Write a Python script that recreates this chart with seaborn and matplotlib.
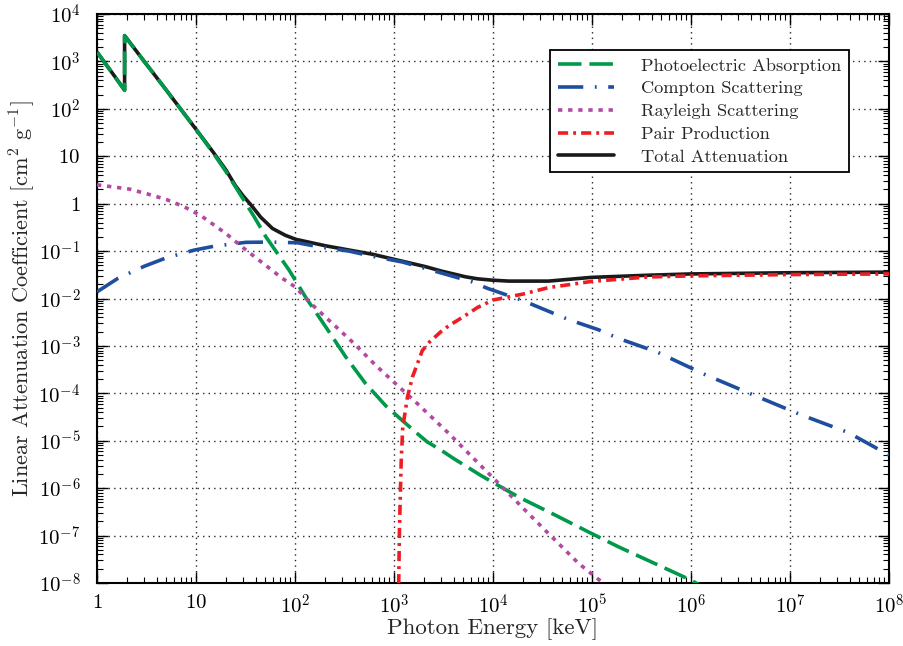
import numpy as np
import matplotlib
matplotlib.use("Agg")
import matplotlib.pyplot as plt
import seaborn as sns
from matplotlib.ticker import LogLocator, NullFormatter

# photon energy [keV] and coefficient [cm^2 g^-1]
photo_energy = [1.0, 1.9, 1.9, 3.0, 5.0, 10.0, 15.0, 20.0, 38.7, 50.8, 87.2, 128.5,
                205, 325, 515, 823, 1259, 1700, 2160, 3000, 4020, 5500, 7460, 9770,
                18150, 42600, 99600, 185000, 1.0e6, 2.0e6]
photo_coef = [1580, 245, 3500, 1000, 250, 37, 11.5, 4.8, 0.53, 0.2, 0.0397, 0.0105,
              2.5e-3, 5.9e-4, 1.62e-4, 5.5e-5, 2.5e-5, 1.45e-5, 9.5e-6, 6.3e-6, 4.2e-6,
              2.8e-6, 1.88e-6, 1.36e-6, 6.5e-7, 2.7e-7, 1.1e-7, 5.8e-8, 1.15e-8, 5e-9]

compton_energy = [1.0, 1.62, 3.01, 5.0, 9.6, 15.3, 31.9, 54.8, 106, 175, 351, 603,
                  1210, 2080, 3870, 6150, 8710, 19600, 57900, 116000, 185000, 450000,
                  1.38e6, 4.09e6, 1.26e7, 3.85e7, 1.0e8]
compton_coef = [0.0138, 0.0265, 0.048, 0.072, 0.105, 0.127, 0.153, 0.155, 0.15, 0.123,
                0.1, 0.078, 0.059, 0.043, 0.0297, 0.0225, 0.0165, 9.2e-3, 3.6e-3, 2.2e-3,
                1.44e-3, 7.5e-4, 2.5e-4, 9.6e-5, 3.6e-5, 1.5e-5, 5.0e-6]

rayleigh_energy = [1.0, 2.13, 3.25, 5.0, 7.6, 11.2, 20, 30, 50, 74.7, 100, 150, 238,
                   394, 653, 1038, 1651, 3575, 7180, 11400, 21200, 39300, 73100,
                   125600, 200000]
rayleigh_coef = [2.5, 2.03, 1.6, 1.23, 0.86, 0.56, 0.236, 0.117, 0.051, 0.0265, 0.0177,
                 7.3e-3, 3e-3, 1.13e-3, 3.9e-4, 1.6e-4, 6.6e-5, 1.43e-5, 3.3e-6, 1.26e-6,
                 3.4e-7, 9.4e-8, 2.6e-8, 1.05e-8, 4e-9]

pair_energy = [1100, 1135, 1181, 1225, 1367, 1535, 1933, 2275, 2980, 3610, 5000, 7000,
               10000, 20000, 36500, 100000, 370000, 1.0e6, 1.0e7, 1.0e8]
pair_coef = [1e-9, 1.3e-7, 3.4e-6, 1.9e-5, 8.3e-5, 2.2e-4, 8e-4, 1.2e-3, 2.0e-3, 2.7e-3,
             4.1e-3, 6.5e-3, 9.3e-3, 0.0124, 0.017, 0.023, 0.0285, 0.030, 0.032, 0.033]

total_energy = [1.0, 1.9, 1.9, 3.0, 5.0, 10.0, 15.0, 20.0, 25.0, 30.0, 35.8, 45.0, 59.2,
                80.0, 102, 205, 603, 2080, 3000, 5270, 7000, 9770, 14400, 36400, 98200,
                370000, 1.0e6, 1.0e7, 1.0e8]
total_coef = [1580, 250, 3500, 1000, 250, 37, 12, 5.2, 2.4, 1.45, 0.95, 0.52, 0.30,
              0.215, 0.177, 0.129, 0.086, 0.047, 0.038, 0.0287, 0.026, 0.0244, 0.0233,
              0.0233, 0.0279, 0.031, 0.033, 0.035, 0.036]

xtick_vals = [1, 10, 1e2, 1e3, 1e4, 1e5, 1e6, 1e7, 1e8]
xtick_labels = ['$1$', '$10$', '$10^2$', '$10^3$', '$10^4$', '$10^5$', '$10^6$',
                '$10^7$', '$10^8$']
ytick_vals = [1e-8, 1e-7, 1e-6, 1e-5, 1e-4, 1e-3, 1e-2, 1e-1, 1, 10, 1e2, 1e3, 1e4]
ytick_labels = ['$10^{-8}$', '$10^{-7}$', '$10^{-6}$', '$10^{-5}$', '$10^{-4}$',
                '$10^{-3}$', '$10^{-2}$', '$10^{-1}$', '$1$', '$10$', '$10^2$',
                '$10^3$', '$10^4$']

sns.set_style("ticks")
plt.rcParams['font.family'] = 'serif'
plt.rcParams['font.serif'] = ['cmr10', 'DejaVu Serif']
plt.rcParams['mathtext.fontset'] = 'cm'
plt.rcParams['axes.unicode_minus'] = False

fig = plt.figure(figsize=(9.04, 6.46), dpi=100)
ax = fig.add_axes([0.1073, 0.0975, 0.8761, 0.8808])
ax.set_xscale('log')
ax.set_yscale('log')

lw = 2.6
sns.lineplot(x=total_energy, y=total_coef, ax=ax, color='#1a1a1a', lw=lw,
             label='Total Attenuation', estimator=None, sort=False, zorder=2)
sns.lineplot(x=photo_energy, y=photo_coef, ax=ax, color='#00994a', lw=lw,
             linestyle=(0, (6.5, 2.2)), label='Photoelectric Absorption',
             estimator=None, sort=False, zorder=3)
sns.lineplot(x=compton_energy, y=compton_coef, ax=ax, color='#1f4e9e', lw=lw,
             linestyle=(0, (7, 3.2, 0.5, 3.2)), label='Compton Scattering',
             estimator=None, sort=False, zorder=3)
sns.lineplot(x=rayleigh_energy, y=rayleigh_coef, ax=ax, color='#b348a5', lw=lw,
             linestyle=(0, (1.2, 1.6)), label='Rayleigh Scattering',
             estimator=None, sort=False, zorder=3)
sns.lineplot(x=pair_energy, y=pair_coef, ax=ax, color='#ee1d23', lw=lw,
             linestyle=(0, (2.8, 1.4, 0.8, 1.4)), label='Pair Production',
             estimator=None, sort=False, zorder=3)

ax.set_xlim(1, 1e8)
ax.set_ylim(1e-8, 1e4)
ax.set_xticks(xtick_vals, xtick_labels)
ax.set_yticks(ytick_vals, ytick_labels)
ax.xaxis.set_minor_locator(LogLocator(base=10, subs=np.arange(2, 10), numticks=100))
ax.yaxis.set_minor_locator(LogLocator(base=10, subs=np.arange(2, 10), numticks=100))
ax.xaxis.set_minor_formatter(NullFormatter())
ax.yaxis.set_minor_formatter(NullFormatter())

ax.grid(True, which='major', color='0.15', linestyle=(0, (1, 3)), lw=1.0)
ax.tick_params(which='both', direction='in', top=True, right=True, colors='black')
ax.tick_params(which='major', length=8, width=1.0, labelsize=15)
ax.tick_params(axis='x', which='major', pad=8)
ax.tick_params(axis='y', which='major', pad=12)
ax.tick_params(which='minor', length=4, width=0.8)
for s in ax.spines.values():
    s.set_linewidth(1.5)
    s.set_color('black')

ax.set_xlabel('Photon Energy [keV]', fontsize=16.5, labelpad=0)
ax.set_ylabel('Linear Attenuation Coefficient [cm$^{2}$ g$^{-1}$]', fontsize=16, labelpad=1)

handles, labels = ax.get_legend_handles_labels()
order = ['Photoelectric Absorption', 'Compton Scattering', 'Rayleigh Scattering',
         'Pair Production', 'Total Attenuation']
hmap = dict(zip(labels, handles))
leg = ax.legend([hmap[k] for k in order], order, loc='upper right',
                bbox_to_anchor=(0.9495, 0.9367), borderaxespad=0, fancybox=False,
                edgecolor='black', framealpha=1, fontsize=13.2, handlelength=3.05,
                handletextpad=1.5, labelspacing=0.38, borderpad=0.42)
leg.get_frame().set_linewidth(1.3)

fig.savefig('out.png', dpi=100)
